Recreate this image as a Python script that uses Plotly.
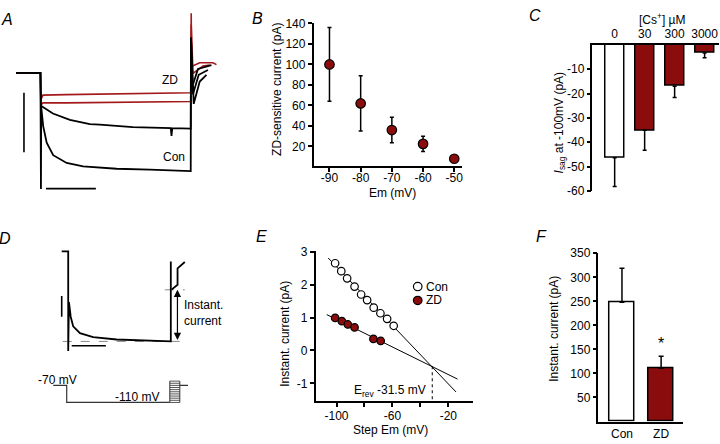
import plotly.graph_objects as go

FONT = "Liberation Sans, Arial, Helvetica, sans-serif"
RED_FILL = "#8b0c0c"
RED_TRACE = "#a3191b"
W, H = 720, 444
FS = 12

# ---------------- Panel A: example current traces (time ms, current pA)
A_CON1_T = [-100, -2, 0, 1, 9, 23, 49, 103, 169, 303, 436, 596, 600, 601, 612, 636, 663]
A_CON1_I = [0, 0, -240, -70, -110, -144, -170, -186, -193, -198, -200, -203, -203, 73, -64, -18, -4]
A_CON2_T = [-100, -2, 0, 48, 116, 196, 236, 368, 520, 523, 526, 596, 600, 601, 609, 632, 669]
A_CON2_I = [0, 0, -68, -84, -97, -106, -107, -112, -114, -130, -114, -115, -115, 73, -44, -4, 6]
A_CON3_T = [609, 629, 683]
A_CON3_I = [-24, 8, 16]
A_ZD1_T = [-100, -2, 0, 8, 100, 300, 450, 596, 600, 602, 603, 636, 689, 703]
A_ZD1_I = [0, 0, -55, -46, -45, -43, -42, -41, -41, 123, 13, 21, 21, 17]
A_ZD2_T = [-100, -2, 0, 8, 100, 300, 450, 596, 600, 602, 609, 649, 676]
A_ZD2_I = [0, 0, -66, -62, -62, -61, -59, -59, -59, 100, -1, 14, 16]
A_SCALE_V_T = [-68, -68]
A_SCALE_V_I = [-41, -164]
A_SCALE_H_T = [20, 220]
A_SCALE_H_I = [-239, -239]

# ---------------- Panel B: ZD-sensitive current vs Em
B_EM = [-90, -80, -70, -60, -50]
B_I = [100, 62, 36, 22.5, 8]
B_ERR = [36, 27, 12.5, 7.5, 3.3]
B_YTICKS = [20, 40, 60, 80, 100, 120, 140]

# ---------------- Panel C: Isag at -100 mV vs [Cs+]
C_CONC = ["0", "30", "300", "3000"]
C_ISAG = [-46.4, -35.1, -17.0, -3.4]
C_ERR = [11.7, 8.2, 4.6, 1.9]
C_YTICKS = [-60, -50, -40, -30, -20, -10]

# ---------------- Panel D: schematic trace (time ms, current pA) + protocol (mV)
D_TR_T = [-26, 0, 0, 3, 10, 20, 47, 100, 194, 327, 407, 411, 411]
D_TR_I = [186, 186, -20, 81, 51, 31, 17, 9, 4, 2, 0, 0, 165]
D_TAIL_T = [414, 438, 438, 467]
D_TAIL_I = [107, 117, 151, 164]
D_BASE_T = [-22, 467]
D_BASE_I = [0, 0]
D_INST_T = [387, 467]
D_INST_I = [106.6, 106.6]
D_SCALE_V_T = [-26, -26]
D_SCALE_V_I = [94, 51]
D_SCALE_H_T = [14, 151]
D_SCALE_H_I = [-9, -9]
D_PROT_T = [-60, -6, -6, 407]
D_PROT_V = [-70, -70, -110, -110]
D_STEP_T = [407, 447]
D_STEPS_V = [-110, -105, -100, -95, -90, -85, -80, -75, -70, -65, -60]
D_HOLD_T = [447, 480]
D_HOLD_V = [-70, -70]

# ---------------- Panel E: instantaneous current vs step Em
E_CON_EM = [-101, -96.6, -92.4, -87.1, -82.4, -78.1, -73.4, -68.6, -63.8, -59.1]
E_CON_I = [2.65, 2.41, 2.19, 1.94, 1.70, 1.53, 1.30, 1.13, 0.96, 0.75]
E_ZD_EM = [-101, -96.2, -91.9, -87.1, -73.6, -68.4]
E_ZD_I = [0.99, 0.89, 0.79, 0.70, 0.35, 0.29]
E_CON_FIT_EM = [-106, -14.5]
E_CON_FIT_I = [2.81, -1.26]
E_ZD_FIT_EM = [-107, -13.4]
E_ZD_FIT_I = [1.09, -0.87]
E_REV = -31.5
E_REV_I = -0.48
E_YMIN = -1.54
E_XTICKS = [-100, -80, -60, -40, -20]
E_XTICKTEXT = ["-100", "", "-60", "", "-20"]
E_YTICKS = [-1, 0, 1, 2, 3]

# ---------------- Panel F: instantaneous current, Con vs ZD
F_GROUPS = ["Con", "ZD"]
F_VALS = [248, 111]
F_ERR = [71, 25]
F_YTICKS = [50, 100, 150, 200, 250, 300, 350]


def hy(vals):
    """tick text with a plain hyphen-minus, as in the original figure"""
    return [("%g" % v) for v in vals]


def px(x):
    return x / W


def py(y):
    return 1 - y / H


fig = go.Figure()


def line(x, y, xa, ya, color="black", width=1.8, dash=None):
    fig.add_trace(go.Scatter(x=x, y=y, xaxis=xa, yaxis=ya, mode="lines",
                             line=dict(color=color, width=width, dash=dash),
                             showlegend=False, hoverinfo="skip"))


# Panel A
line(A_ZD1_T, A_ZD1_I, "x", "y", RED_TRACE, 1.6)
line(A_ZD2_T, A_ZD2_I, "x", "y", RED_TRACE, 1.6)
line(A_CON2_T, A_CON2_I, "x", "y", "black", 1.8)
line(A_CON1_T, A_CON1_I, "x", "y", "black", 1.8)
line(A_CON3_T, A_CON3_I, "x", "y", "black", 1.8)
line(A_SCALE_V_T, A_SCALE_V_I, "x", "y", "black", 1.6)
line(A_SCALE_H_T, A_SCALE_H_I, "x", "y", "black", 1.6)

# Panel B
fig.add_trace(go.Scatter(x=B_EM, y=B_I, xaxis="x2", yaxis="y2", mode="markers",
                         marker=dict(size=9.5, color=RED_FILL, line=dict(color="black", width=1.2)),
                         error_y=dict(type="data", array=B_ERR, color="black", thickness=1.5, width=2),
                         showlegend=False))

# Panel C
fig.add_trace(go.Bar(x=C_CONC, y=C_ISAG, xaxis="x3", yaxis="y3", width=0.63,
                     marker=dict(color=["white", RED_FILL, RED_FILL, RED_FILL],
                                 line=dict(color="black", width=1.5)),
                     error_y=dict(type="data", symmetric=False, array=[0] * len(C_ERR),
                                  arrayminus=C_ERR, color="black", thickness=1.5, width=2),
                     showlegend=False))

# Panel D
line(D_BASE_T, D_BASE_I, "x4", "y4", "#8a8a8a", 1, "dash")
line(D_INST_T, D_INST_I, "x4", "y4", "#8a8a8a", 1, "dash")
line(D_TR_T, D_TR_I, "x4", "y4", "black", 1.8)
line(D_TAIL_T, D_TAIL_I, "x4", "y4", "black", 1.8)
line(D_SCALE_V_T, D_SCALE_V_I, "x4", "y4", "black", 1.6)
line(D_SCALE_H_T, D_SCALE_H_I, "x4", "y4", "black", 1.6)
line(D_PROT_T, D_PROT_V, "x4", "y7", "#333333", 1.2)
for v in D_STEPS_V:
    line(D_STEP_T, [v, v], "x4", "y7", "#555555", 1)
line([D_STEP_T[0]] * 2, [D_STEPS_V[0], D_STEPS_V[-1]], "x4", "y7", "#333333", 1)
line([D_STEP_T[1]] * 2, [D_STEPS_V[0], D_STEPS_V[-1]], "x4", "y7", "#333333", 1)
line(D_HOLD_T, D_HOLD_V, "x4", "y7", "#333333", 1.2)

# Panel E
line(E_CON_FIT_EM, E_CON_FIT_I, "x5", "y5", "black", 1)
line(E_ZD_FIT_EM, E_ZD_FIT_I, "x5", "y5", "black", 1)
line([E_REV, E_REV], [E_REV_I, E_YMIN], "x5", "y5", "black", 1, "dot")
fig.add_trace(go.Scatter(x=E_CON_EM, y=E_CON_I, xaxis="x5", yaxis="y5", mode="markers", name="Con",
                         marker=dict(size=7.5, color="white", line=dict(color="black", width=1.2)),
                         showlegend=False))
fig.add_trace(go.Scatter(x=E_ZD_EM, y=E_ZD_I, xaxis="x5", yaxis="y5", mode="markers", name="ZD",
                         marker=dict(size=7.5, color=RED_FILL, line=dict(color="black", width=1.2)),
                         showlegend=False))

# Panel F
fig.add_trace(go.Bar(x=F_GROUPS, y=F_VALS, xaxis="x6", yaxis="y6", width=0.65,
                     marker=dict(color=["white", RED_FILL], line=dict(color="black", width=1.5)),
                     error_y=dict(type="data", symmetric=False, array=F_ERR,
                                  arrayminus=[0] * len(F_ERR), color="black", thickness=1.5, width=2.5),
                     showlegend=False))

tickfont = dict(family=FONT, size=FS, color="black")
ax = dict(showline=True, linecolor="black", linewidth=1.5, ticks="outside", ticklen=4,
          tickwidth=1.5, tickcolor="black", showgrid=False, zeroline=False, tickfont=tickfont,
          fixedrange=True)
hidden = dict(visible=False, fixedrange=True)

fig.update_layout(
    width=W, height=H, margin=dict(l=0, r=0, t=0, b=0),
    paper_bgcolor="white", plot_bgcolor="rgba(0,0,0,0)",
    font=dict(family=FONT, size=FS, color="black"),
    bargap=0,
    # A
    xaxis=dict(domain=[0, px(240)], range=[-164, 796], anchor="y", **hidden),
    yaxis=dict(domain=[0.5, 1], range=[-308, 136], anchor="x", **hidden),
    # B
    xaxis2=dict(domain=[px(314), px(463)], range=[-95.1, -47.4], anchor="y2",
                tickvals=B_EM, ticktext=hy(B_EM), ticklabelstandoff=-4, **ax),
    yaxis2=dict(domain=[py(164), py(17)], range=[1.1, 140], anchor="x2",
                tickvals=B_YTICKS, ticktext=hy(B_YTICKS), **ax),
    # C
    xaxis3=dict(domain=[px(593.3), 1], range=[-0.74, 3.48], anchor="y3", type="category",
                side="top", **{**ax, "ticks": ""}),
    yaxis3=dict(domain=[py(190), py(39)], range=[-60, 0], anchor="x3",
                tickvals=C_YTICKS, ticktext=hy(C_YTICKS), **ax),
    # D
    xaxis4=dict(domain=[0, px(240)], range=[-273.2, 686.8], anchor="y4", **hidden),
    yaxis4=dict(domain=[0, 0.5], range=[-197.4, 246.6], anchor="x4", **hidden),
    yaxis7=dict(overlaying="y4", range=[-191.1, 313.4], anchor="x4", **hidden),
    # E
    xaxis5=dict(domain=[px(316), px(473.3)], range=[-115, -2.6], anchor="y5",
                tickvals=E_XTICKS, ticktext=E_XTICKTEXT, ticklabelstandoff=-1, **ax),
    yaxis5=dict(domain=[py(407), py(252)], range=[E_YMIN, 3.02], anchor="x5",
                tickvals=E_YTICKS, ticktext=hy(E_YTICKS), **ax),
    # F
    xaxis6=dict(domain=[px(599.3), px(684)], range=[-0.6, 1.56], anchor="y6", type="category",
                **{**ax, "ticks": ""}),
    yaxis6=dict(domain=[py(428), py(254.3)], range=[0, 350], anchor="x6",
                tickvals=F_YTICKS, ticktext=hy(F_YTICKS), **ax),
)

ann = []


def text(x, y, s, size=FS, angle=0, xanchor="center", align="center"):
    ann.append(dict(x=px(x), y=py(y), xref="paper", yref="paper", text=s, showarrow=False,
                    textangle=angle, xanchor=xanchor, yanchor="middle", align=align,
                    borderpad=0, font=dict(family=FONT, size=size, color="black")))


for lab, (x, y) in {"A": (6.7, 12.5), "B": (258, 11.7), "C": (535.8, 8.7),
                    "D": (5, 239.5), "E": (261.7, 237.3), "F": (542.5, 237.3)}.items():
    text(x, y, "<i>%s</i>" % lab, size=16)

text(170.5, 75, "ZD")
text(174.2, 155, "Con")
text(393.3, 192.5, "Em (mV)")
text(278, 85, "ZD-sensitive current (pA)", angle=-90)
text(662.7, 12.7, "[Cs<sup>+</sup>] µM")
text(561, 119, "<i>I</i><sub>sag</sub> at -100mV (pA)", angle=-90)
text(183.3, 315.5, "Instant.<br>current", xanchor="left", align="left")
text(57.5, 385, "-70 mV")
text(137.5, 402.8, "-110 mV")
text(286, 337.8, "Instant. current (pA)", angle=-90)
text(391, 437, "Step Em (mV)")
text(390.8, 396.7, "E<sub>rev</sub> -31.5 mV")
text(426, 288.7, "Con", xanchor="left")
text(426, 303, "ZD", xanchor="left")
text(554, 332, "Instant. current (pA)", angle=-90)

# significance star above ZD bar
ann.append(dict(x="ZD", y=F_VALS[1] + F_ERR[1], xref="x6", yref="y6", text="*", showarrow=False,
                yanchor="bottom", yshift=2, font=dict(family=FONT, size=16, color="black")))

# double-headed arrow for instantaneous current (panel D)
ann.append(dict(x=437.6, y=D_INST_I[0], ax=437.6, ay=D_BASE_I[0], xref="x4", yref="y4",
                axref="x4", ayref="y4", showarrow=True, arrowhead=2, arrowside="end+start",
                arrowsize=1.2, arrowwidth=1.2, arrowcolor="black", text=""))

fig.update_layout(annotations=ann)

# legend keys for panel E
shapes = []
for yy, fill in [(288.7, "white"), (303, RED_FILL)]:
    r = 4.3
    shapes.append(dict(type="circle", xref="paper", yref="paper",
                       x0=px(418.3 - r), x1=px(418.3 + r), y0=py(yy + r), y1=py(yy - r),
                       fillcolor=fill, line=dict(color="black", width=1.2)))
fig.update_layout(shapes=shapes)

fig.write_html("out.html", config={"displayModeBar": False},
               post_script="document.body.style.margin='0px';")
